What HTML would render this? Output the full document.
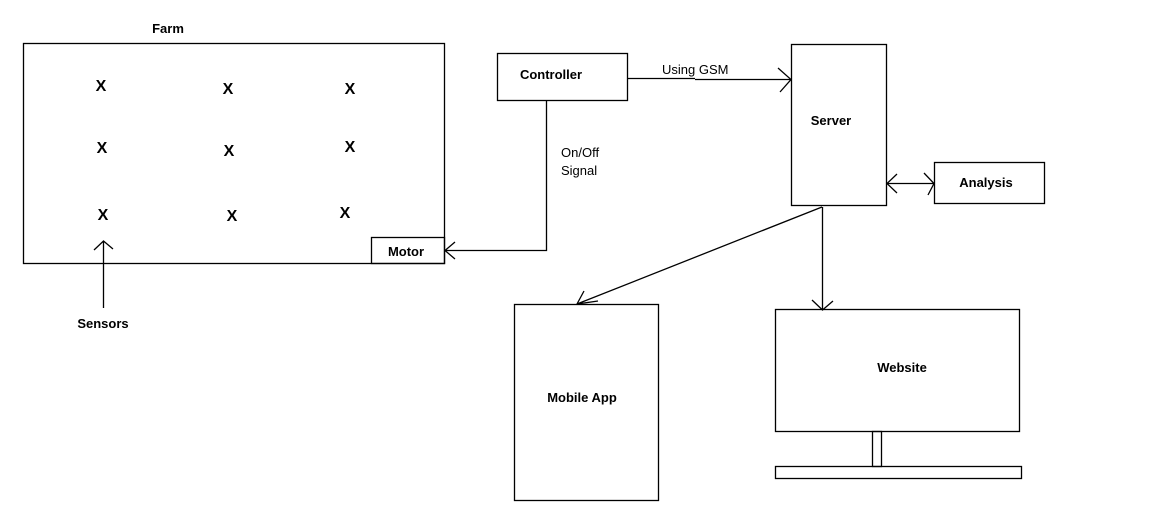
<!DOCTYPE html>
<html><head><style>
body{margin:0;background:#fff;width:1152px;height:525px;overflow:hidden}
svg text{font-family:"Liberation Sans",sans-serif;font-size:13px;fill:#000}
.b{font-weight:bold}
</style></head><body>
<svg width="1152" height="525" viewBox="0 0 1152 525" xmlns="http://www.w3.org/2000/svg">
<g fill="none" stroke="#000" stroke-width="1.3">
<rect x="23.5" y="43.5" width="421" height="220"/>
<rect x="371.5" y="237.5" width="73" height="26"/>
<rect x="497.5" y="53.5" width="130" height="47"/>
<rect x="791.5" y="44.5" width="95" height="161"/>
<rect x="934.5" y="162.5" width="110" height="41"/>
<rect x="514.5" y="304.5" width="144" height="196"/>
<rect x="775.5" y="309.5" width="244" height="122"/>
<rect x="872.5" y="431.5" width="9" height="35"/>
<rect x="775.5" y="466.5" width="246" height="12"/>
<!-- sensors arrow -->
<path d="M103.5 308V241M94 250L103.5 241L113 249"/>
<!-- controller to server -->
<path d="M628 78.5H695M695 79.5H791M778 68L791 79.5L780 92"/>
<!-- controller to motor -->
<path d="M546.5 100V250.5H445M455 242L445 250.5L455 259"/>
<!-- server analysis -->
<path d="M887 183.5H934M897 174L887 183.5L897 193M924 173L934 183.5L928 195"/>
<!-- server to mobile -->
<path d="M822 207L577 304M584 291L577 304L598 301"/>
<!-- server to website -->
<path d="M822.5 207V310M812 300L822.5 310L833 301"/>
</g>
<text x="168" y="33" text-anchor="middle" class="b">Farm</text>
<g class="b" font-size="16" style="font-size:16px">
<text x="101" y="91" text-anchor="middle" class="b" style="font-size:16px">X</text>
<text x="228" y="94" text-anchor="middle" class="b" style="font-size:16px">X</text>
<text x="350" y="94" text-anchor="middle" class="b" style="font-size:16px">X</text>
<text x="102" y="153" text-anchor="middle" class="b" style="font-size:16px">X</text>
<text x="229" y="156" text-anchor="middle" class="b" style="font-size:16px">X</text>
<text x="350" y="152" text-anchor="middle" class="b" style="font-size:16px">X</text>
<text x="103" y="220" text-anchor="middle" class="b" style="font-size:16px">X</text>
<text x="232" y="221" text-anchor="middle" class="b" style="font-size:16px">X</text>
<text x="345" y="218" text-anchor="middle" class="b" style="font-size:16px">X</text>
</g>
<text x="406" y="256" text-anchor="middle" class="b">Motor</text>
<text x="103" y="328" text-anchor="middle" class="b">Sensors</text>
<text x="551" y="79" text-anchor="middle" class="b">Controller</text>
<text x="662" y="74">Using GSM</text>
<text x="561" y="157">On/Off</text>
<text x="561" y="175">Signal</text>
<text x="831" y="125" text-anchor="middle" class="b">Server</text>
<text x="986" y="187" text-anchor="middle" class="b">Analysis</text>
<text x="582" y="402" text-anchor="middle" class="b">Mobile App</text>
<text x="902" y="372" text-anchor="middle" class="b">Website</text>
</svg>
</body></html>
